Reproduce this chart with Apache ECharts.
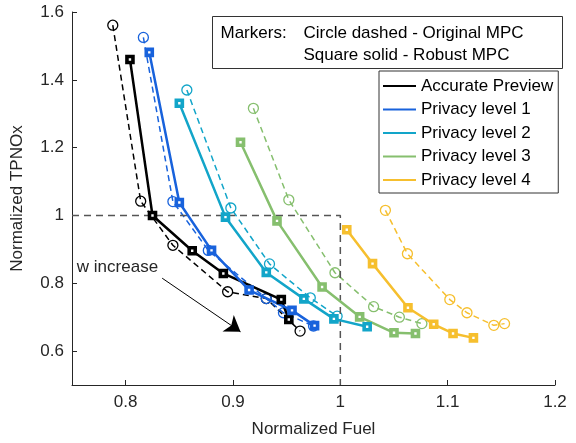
<!DOCTYPE html>
<html>
<head>
<meta charset="utf-8">
<script src="https://cdn.jsdelivr.net/npm/echarts@6/dist/echarts.min.js"></script>
<style>
  html, body { margin: 0; padding: 0; background: #fff; }
  #main { width: 576px; height: 443px; }
</style>
</head>
<body>
<div id="main"></div>
<script>
// series names + colours
const seriesNames = ['Accurate Preview', 'Privacy level 1', 'Privacy level 2', 'Privacy level 3', 'Privacy level 4'];
const seriesColors = ['#000000', '#1862dc', '#12a5c9', '#86bf6e', '#f6bf2e'];

// Robust MPC (squares, solid)  [fuel, TPNOx]
const robustAccurate = [[0.804, 1.46], [0.825, 1.0], [0.862, 0.896], [0.891, 0.829], [0.945, 0.752], [0.952, 0.693]];
const robustLevel1 = [[0.822, 1.481], [0.850, 1.038], [0.880, 0.897], [0.915, 0.780], [0.955, 0.720], [0.976, 0.675]];
const robustLevel2 = [[0.850, 1.331], [0.893, 0.995], [0.931, 0.832], [0.966, 0.754], [0.994, 0.695], [1.025, 0.672]];
const robustLevel3 = [[0.907, 1.216], [0.941, 0.984], [0.983, 0.789], [1.018, 0.701], [1.050, 0.654], [1.070, 0.652]];
const robustLevel4 = [[1.006, 0.958], [1.030, 0.858], [1.063, 0.728], [1.087, 0.679], [1.105, 0.652], [1.124, 0.639]];

// Original MPC (circles, dashed)
const originalAccurate = [[0.788, 1.561], [0.814, 1.042], [0.844, 0.912], [0.895, 0.775], [0.931, 0.755], [0.9625, 0.659]];
const originalLevel1 = [[0.8165, 1.525], [0.844, 1.041], [0.877, 0.897], [0.931, 0.755], [0.947, 0.713], [0.975, 0.674]];
const originalLevel2 = [[0.857, 1.370], [0.898, 1.022], [0.934, 0.857], [0.972, 0.757], [0.997, 0.703]];
const originalLevel3 = [[0.919, 1.316], [0.952, 1.046], [0.995, 0.831], [1.031, 0.731], [1.055, 0.700], [1.076, 0.681]];
const originalLevel4 = [[1.042, 1.015], [1.0625, 0.887], [1.102, 0.752], [1.118, 0.713], [1.143, 0.676], [1.153, 0.681]];

const robustData = [robustAccurate, robustLevel1, robustLevel2, robustLevel3, robustLevel4];
const originalData = [originalAccurate, originalLevel1, originalLevel2, originalLevel3, originalLevel4];

// reference box (fuel = 1, TPNOx = 1)
const refLine = [[0.75, 1], [1, 1], [1, 0.5]];
// "w increase" arrow
const arrowStart = [0.834, 0.815];
const arrowEnd = [0.907, 0.657];
const arrowLabelAt = [0.7545, 0.846];

const xTicks = [0.8, 0.9, 1, 1.1, 1.2];
const yTicks = [0.6, 0.8, 1, 1.2, 1.4, 1.6];

const axisColor = '#262626';
const font = 'Liberation Sans, Arial, sans-serif';

let series = [];

series.push({
    type: 'line',
    name: 'ref',
    data: refLine,
    symbol: 'none',
    silent: true,
    lineStyle: { color: '#555', width: 1.5, type: [7, 5] },
    markLine: {
        silent: true,
        symbol: ['none', 'arrow'],
        symbolSize: 15,
        label: { show: false },
        lineStyle: { color: '#000', width: 1, type: 'solid' },
        data: [[{ coord: arrowStart }, { coord: arrowEnd }]]
    },
    markPoint: {
        silent: true,
        symbol: 'circle',
        symbolSize: 0,
        label: {
            show: true, position: 'right', distance: 0,
            formatter: 'w increase', color: axisColor, fontSize: 17, fontFamily: font
        },
        data: [{ coord: arrowLabelAt }]
    }
});

originalData.forEach((d, i) => {
    series.push({
        type: 'line',
        name: seriesNames[i],
        data: d,
        symbol: 'circle',
        symbolSize: 10,
        z: 2,
        lineStyle: { color: seriesColors[i], width: 1.5, type: [6, 4] },
        itemStyle: { color: 'rgba(255,255,255,0)', borderColor: seriesColors[i], borderWidth: 1.3 }
    });
});

robustData.forEach((d, i) => {
    series.push({
        type: 'line',
        name: seriesNames[i],
        data: d,
        symbol: 'rect',
        symbolSize: 6,
        z: 3,
        lineStyle: { color: seriesColors[i], width: 2.5 },
        itemStyle: { color: '#fff', borderColor: seriesColors[i], borderWidth: 3.6 }
    });
});

let chart = echarts.init(document.getElementById('main'));
chart.setOption({
    animation: false,
    backgroundColor: '#fff',
    grid: { left: 72, right: 21, top: 12, bottom: 57 },
    xAxis: {
        type: 'value', min: 0.75, max: 1.2,
        name: 'Normalized Fuel', nameLocation: 'middle', nameGap: 36,
        nameTextStyle: { color: axisColor, fontSize: 17, fontFamily: font },
        axisLine: { show: true, lineStyle: { color: axisColor, width: 1 } },
        axisTick: { show: true, inside: true, length: 5, customValues: xTicks, lineStyle: { color: axisColor } },
        axisLabel: { customValues: xTicks, color: axisColor, fontSize: 17, fontFamily: font, margin: 9 },
        splitLine: { show: false }
    },
    yAxis: {
        type: 'value', min: 0.5, max: 1.6,
        name: 'Normalized TPNOx', nameLocation: 'middle', nameGap: 46,
        nameTextStyle: { color: axisColor, fontSize: 17, fontFamily: font },
        axisLine: { show: true, lineStyle: { color: axisColor, width: 1 } },
        axisTick: { show: true, inside: true, length: 5, customValues: yTicks, lineStyle: { color: axisColor } },
        axisLabel: { customValues: yTicks, color: axisColor, fontSize: 17, fontFamily: font, margin: 8 },
        splitLine: { show: false }
    },
    legend: {
        orient: 'vertical',
        left: 379, top: 71,
        backgroundColor: '#fff',
        borderColor: '#333', borderWidth: 1, borderRadius: 0,
        padding: [5, 5, 3, 4],
        itemWidth: 33, itemHeight: 2, itemGap: 3.5,
        selectedMode: false,
        textStyle: { color: '#000', fontSize: 17, fontFamily: font, lineHeight: 20 },
        data: seriesNames.map((n, i) => ({ name: n, icon: 'rect', itemStyle: { color: seriesColors[i], borderWidth: 0 } }))
    },
    graphic: [{
        type: 'group',
        left: 212, top: 16,
        children: [
            { type: 'rect', shape: { x: 0, y: 0, width: 350, height: 52 }, style: { fill: '#fff', stroke: '#333', lineWidth: 1 } },
            { type: 'text', x: 8, y: 17, style: { text: 'Markers:', fill: '#000', font: '17px ' + font, verticalAlign: 'middle' } },
            { type: 'text', x: 91, y: 17, style: { text: 'Circle dashed - Original MPC', fill: '#000', font: '17px ' + font, verticalAlign: 'middle' } },
            { type: 'text', x: 91, y: 39, style: { text: 'Square solid - Robust MPC', fill: '#000', font: '17px ' + font, verticalAlign: 'middle' } }
        ]
    }],
    series: series
});
</script>
</body>
</html>
